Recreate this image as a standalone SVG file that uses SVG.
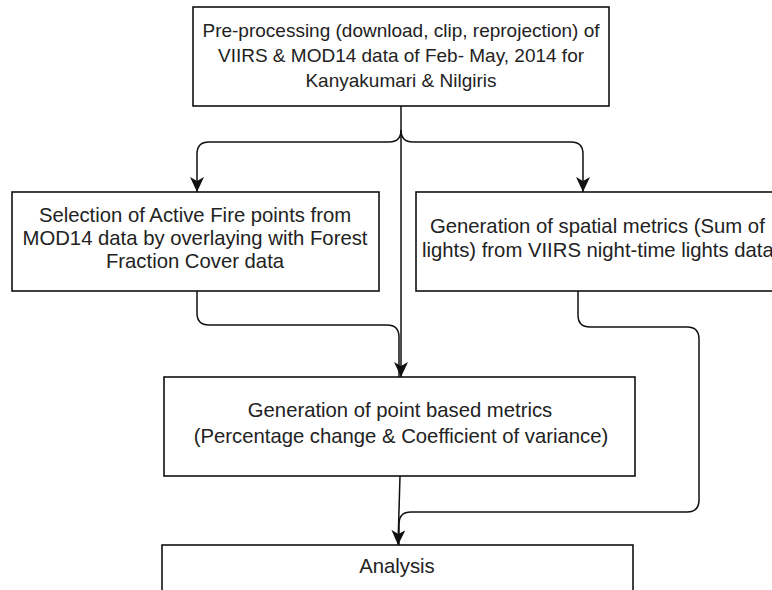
<svg xmlns="http://www.w3.org/2000/svg" width="772" height="590" viewBox="0 0 772 590">
<style>
.box{fill:#fff;stroke:#111;stroke-width:1.6}
.t{font-family:"Liberation Sans",Arial,sans-serif;font-size:20.3px;fill:#222}
.s{font-size:19px}
.c{text-anchor:middle}
.ln{fill:none;stroke:#111;stroke-width:1.5}
</style>
<defs>
<marker id="ah" viewBox="0 0 15 14" markerWidth="15" markerHeight="14" refX="15" refY="7" orient="auto" markerUnits="userSpaceOnUse">
<path d="M0,0 L15,7 L0,14 L4,7 Z" fill="#111"/>
</marker>
</defs>
<rect width="772" height="590" fill="#fff"/>
<g id="connectors">
<path class="ln" d="M401,106 V377" marker-end="url(#ah)"/>
<path class="ln" d="M401,130 Q401,142 389,142 H209 Q197,142 197,154 V192" marker-end="url(#ah)"/>
<path class="ln" d="M401,130 Q401,142 413,142 H571 Q583,142 583,154 V192" marker-end="url(#ah)"/>
<path class="ln" d="M197,291 V313 Q197,325 209,325 H387 Q399,325 399,337 V377"/>
<path class="ln" d="M400,476 L398,545" marker-end="url(#ah)"/>
<path class="ln" d="M578,291 V315 Q578,327 590,327 H687 Q699,327 699,339 V500 Q699,512 687,512 H411 Q399,512 399,524 V545"/>
</g>
<g id="n1">
<rect class="box" x="193" y="7" width="416" height="99"/>
<text class="t s c" x="401" y="37">Pre-processing (download, clip, reprojection) of</text>
<text class="t s c" x="401" y="62">VIIRS &amp; MOD14 data of Feb- May, 2014 for</text>
<text class="t s c" x="401" y="87">Kanyakumari &amp; Nilgiris</text>
</g>
<g id="n2">
<rect class="box" x="12" y="192" width="367" height="99"/>
<text class="t c" x="195" y="222">Selection of Active Fire points from</text>
<text class="t c" x="195" y="245">MOD14 data by overlaying with Forest</text>
<text class="t c" x="195" y="268">Fraction Cover data</text>
</g>
<g id="n3">
<rect class="box" x="416" y="192" width="380" height="99"/>
<text class="t" x="430" y="233">Generation of spatial metrics (Sum of</text>
<text class="t" x="422" y="257">lights) from VIIRS night-time lights data</text>
</g>
<g id="n4">
<rect class="box" x="164" y="377" width="471" height="99"/>
<text class="t c" x="400" y="417">Generation of point based metrics</text>
<text class="t c" x="401" y="443">(Percentage change &amp; Coefficient of variance)</text>
</g>
<g id="n5">
<rect class="box" x="162" y="545" width="471" height="60"/>
<text class="t c" x="397" y="573">Analysis</text>
</g>
</svg>
